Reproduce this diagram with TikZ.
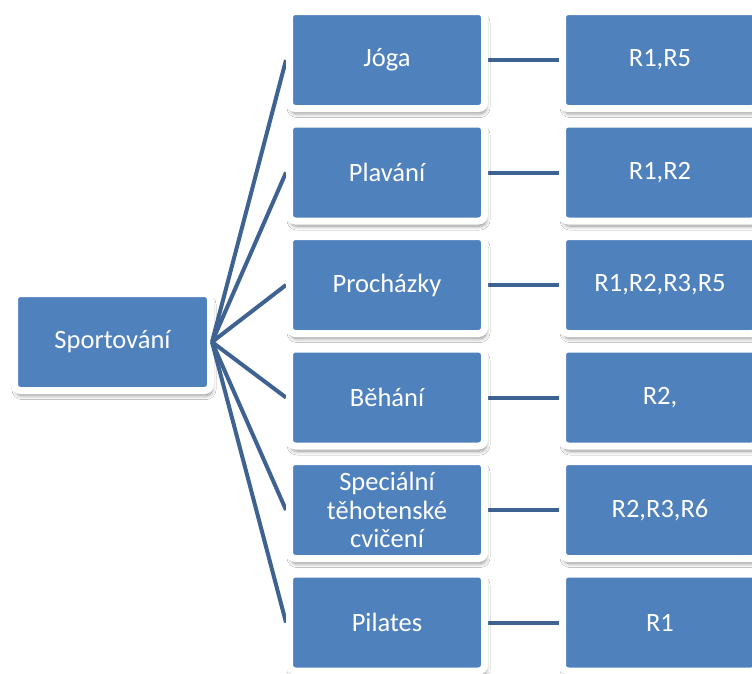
\documentclass[tikz,border=0pt]{standalone}
\usepackage{fontspec}
\setmainfont{Carlito}
\usetikzlibrary{shadows.blur,backgrounds}
\definecolor{boxblue}{RGB}{79,129,189}
\definecolor{linkblue}{RGB}{62,98,146}
\tikzset{
  box/.style={draw=white, line width=7pt, fill=boxblue, rounded corners=6pt,
    minimum width=195pt, minimum height=97pt, inner sep=0pt, align=center,
    text=white, font=\fontsize{26.5}{28.5}\selectfont,
    blur shadow={shadow xshift=1.5pt, shadow yshift=-5pt, shadow blur radius=4pt, shadow blur steps=8, shadow opacity=45}},
  link/.style={draw=linkblue, line width=4pt}
}
\begin{document}
\begin{tikzpicture}[x=1pt,y=1pt]
\useasboundingbox (0,0) rectangle (752,-673);
\clip (0,0) rectangle (752,-673);
\node[box] (a) at (387,-60) {Jóga};
\node[box] (b) at (387,-172.5) {Plavání};
\node[box] (c) at (387,-285) {Procházky};
\node[box] (d) at (387,-397.5) {Běhání};
\node[box] (e) at (387,-510) {Speciální\\těhotenské\\cvičení};
\node[box] (f) at (387,-622.5) {Pilates};
\node[box] (ra) at (660,-60) {R1,R5};
\node[box] (rb) at (660,-172.5) {R1,R2};
\node[box] (rc) at (660,-285) {R1,R2,R3,R5};
\node[box] (rd) at (660,-397.5) {R2,};
\node[box] (re) at (660,-510) {R2,R3,R6};
\node[box] (rf) at (660,-622.5) {R1};
\begin{scope}[on background layer]
\fill[white] (0,0) rectangle (752,-673);
\node[box, minimum width=196pt] (root) at (112.5,-342) {Sportování};
\coordinate (hub) at ([xshift=-2pt]root.east);
\foreach \n in {a,b,c,d,e,f} {
  \draw[link] (hub) -- (\n.west);
  \draw[link] (\n.east) -- (r\n.west);
}
\end{scope}
\end{tikzpicture}
\end{document}
